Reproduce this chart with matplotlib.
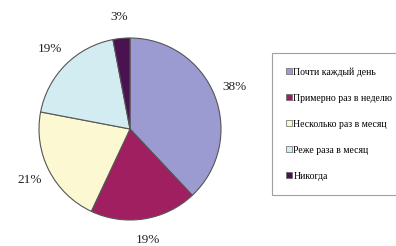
import matplotlib.pyplot as plt
from matplotlib.patches import Patch

plt.rcParams['font.family'] = ['Liberation Serif', 'DejaVu Serif']

categories = ["Почти каждый день", "Примерно раз в неделю",
              "Несколько раз в месяц", "Реже раза в месяц", "Никогда"]
shares = [38, 19, 21, 19, 3]
colors = ["#9b9bd2", "#a01f60", "#fbf8d2", "#d2ecf2", "#4b1252"]

fig = plt.figure(figsize=(3.96, 2.46), dpi=100)
ax = fig.add_axes([39 / 396, 26 / 246, 182 / 396, 182 / 246])

wedges, texts, autotexts = ax.pie(
    shares, colors=colors, startangle=90, counterclock=False,
    autopct="%d%%", pctdistance=1.24,
    wedgeprops=dict(edgecolor="#555555", linewidth=0.8),
    textprops=dict(fontsize=9.5, color="#222222"),
)
ax.set_xlim(-1, 1)
ax.set_ylim(-1, 1)
ax.set_aspect("equal")

handles = [Patch(facecolor=c, edgecolor="#666666", linewidth=0.5) for c in colors]
leg = fig.legend(handles, categories, loc="upper left",
                 bbox_to_anchor=(272 / 396, 1 - 53 / 246),
                 fontsize=7.0, frameon=True, fancybox=False,
                 handlelength=0.6, handleheight=0.6, handletextpad=0.15,
                 labelspacing=1.75, borderpad=1.45, borderaxespad=0)
leg.get_frame().set_edgecolor("#888888")
leg.get_frame().set_linewidth(0.8)

fig.savefig("out.png", dpi=100)
